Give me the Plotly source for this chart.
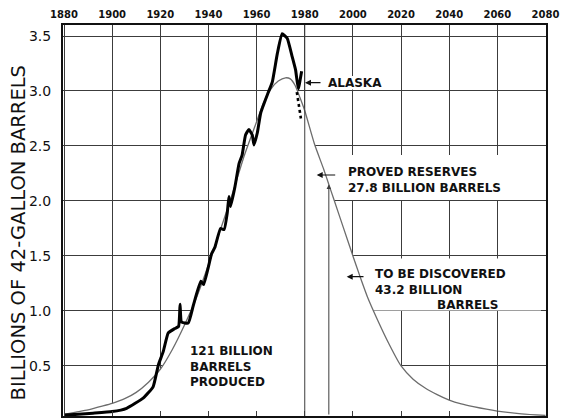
import numpy as np
import plotly.graph_objects as go

# ---------------- data ----------------
thin_years = [1880, 1885, 1890, 1895, 1900, 1905, 1910, 1915, 1920, 1925, 1930, 1935,
              1940, 1945, 1950, 1955, 1960, 1963, 1966, 1969, 1972, 1974, 1976, 1978,
              1980, 1984, 1988, 1990, 1992, 1996, 2000, 2003, 2006, 2010, 2015, 2020,
              2025, 2030, 2035, 2040, 2045, 2050, 2060, 2070, 2080]
thin_values = [0.06, 0.08, 0.10, 0.13, 0.16, 0.20, 0.26, 0.35, 0.47, 0.65, 0.87, 1.12,
               1.42, 1.74, 2.07, 2.42, 2.72, 2.90, 3.02, 3.09, 3.12, 3.11, 3.05, 2.94,
               2.82, 2.52, 2.28, 2.15, 2.02, 1.76, 1.50, 1.31, 1.13, 0.93, 0.70, 0.50,
               0.38, 0.30, 0.24, 0.19, 0.155, 0.13, 0.09, 0.065, 0.05]

prod_years = [1880, 1886, 1892, 1900, 1906, 1913, 1917, 1919.2, 1921.2, 1923.3,
              1926, 1927.6, 1928.2, 1928.8, 1931.6, 1933.7, 1936.8, 1938, 1941.3, 1942.7,
              1945, 1946.5, 1947.8, 1948.5, 1949.2, 1951, 1952.7, 1954, 1955.4, 1956.8,
              1958.2, 1958.9, 1960.3, 1961.7, 1964.9, 1966.5, 1968.6, 1970.6, 1972.7, 1974.8,
              1976.2, 1977.3, 1978.7]
prod_values = [0.055, 0.06, 0.07, 0.085, 0.115, 0.21, 0.31, 0.51, 0.63, 0.80,
               0.84, 0.86, 1.06, 0.90, 0.89, 1.05, 1.27, 1.24, 1.52, 1.58,
               1.75, 1.74, 1.89, 2.04, 1.95, 2.13, 2.34, 2.42, 2.60, 2.65,
               2.60, 2.51, 2.62, 2.80, 2.99, 3.08, 3.34, 3.52, 3.48, 3.31,
               3.19, 3.02, 3.18]

dash_years = [1976.7, 1978.4]
dash_values = [2.99, 2.75]

tick_years = list(range(1880, 2081, 20))
value_ticks = [0.5, 1.0, 1.5, 2.0, 2.5, 3.0, 3.5]
value_labels = ["0.5", "1.0", "1.5", "2.0", "2.5", "3.0", "3.5"]

produced_end = 1980
reserves_end = 1990

y_title = "BILLIONS OF 42-GALLON BARRELS"
label_alaska = "ALASKA"
label_reserves = ["PROVED RESERVES", "27.8 BILLION BARRELS"]
label_discover = ["TO BE DISCOVERED", "43.2 BILLION"]
label_discover_last = "BARRELS"
label_produced = ["121 BILLION", "BARRELS", "PRODUCED"]

# ---------------- layout helpers ----------------
X_RANGE = [1879.58, 2080.2]
Y_RANGE = [0.045, 3.6]
L, R, T, B = 63, 18, 25, 2
W, H = 564, 418
pw, ph = W - L - R, H - T - B


def yr(px):
    return X_RANGE[0] + (px - L) / pw * (X_RANGE[1] - X_RANGE[0])


def val(py):
    return Y_RANGE[1] - (py - T) / ph * (Y_RANGE[1] - Y_RANGE[0])


GRID = "#3c3c3c"
FONT = "DejaVu Sans"
LBL = dict(family=FONT, size=12, color="#111", weight="bold")

fig = go.Figure()

# smooth complete-cycle curve, area beneath it white (hides grid)
fig.add_trace(go.Scatter(x=thin_years, y=thin_values, mode="lines",
                         line=dict(color="#6c6c6c", width=1.3, shape="spline", smoothing=0.6),
                         fill="tozeroy", fillcolor="white", hoverinfo="skip"))

# boundary at 1980 (full height)
fig.add_trace(go.Scatter(x=[produced_end, produced_end], y=Y_RANGE, mode="lines",
                         line=dict(color=GRID, width=1), hoverinfo="skip"))

# actual production
fig.add_trace(go.Scatter(x=prod_years, y=prod_values, mode="lines",
                         line=dict(color="black", width=3, shape="spline", smoothing=0.4),
                         hoverinfo="skip"))
fig.add_trace(go.Scatter(x=dash_years, y=dash_values, mode="lines",
                         line=dict(color="black", width=2.6, dash="3px,3px"),
                         hoverinfo="skip"))

# white boxes behind the labels (cover grid lines, under traces)
boxes = [(322, 392, 76, 89.5), (340, 546, 155, 200), (352, 546, 258.5, 310.5)]
shapes = []
for x0, x1, y0, y1 in boxes:
    shapes.append(dict(type="rect", xref="x", yref="y", x0=yr(x0), x1=yr(x1),
                       y0=val(y1), y1=val(y0), fillcolor="white",
                       line=dict(width=0), layer="between"))

annotations = []
text_blocks = [
    (label_alaska, 327, 83),
    ("<br>".join(label_reserves), 347, 180),
    ("<br>".join(label_discover), 374, 281.5),
    (label_discover_last, 436, 304.5),
    ("<br>".join(label_produced), 189, 366.5),
]
for txt, px, py in text_blocks:
    annotations.append(dict(x=yr(px), y=val(py), xref="x", yref="y", text=txt,
                            showarrow=False, xanchor="left", yanchor="middle",
                            align="left", borderpad=0, font=LBL))

# left-pointing arrows
for hx, tx, py in [(305, 322, 82.7), (316.7, 336.7, 175), (346.7, 365, 276.7)]:
    annotations.append(dict(x=yr(hx), y=val(py), ax=yr(tx), ay=val(py), xref="x", yref="y",
                            axref="x", ayref="y", text="", showarrow=True,
                            arrowhead=2, arrowsize=1, arrowwidth=1.2, arrowcolor="#111"))

# vertical line at 1990 with arrow up to the curve
top_1990 = float(np.interp(reserves_end, thin_years, thin_values))
annotations.append(dict(x=reserves_end, y=top_1990, ax=reserves_end, ay=Y_RANGE[0],
                        xref="x", yref="y", axref="x", ayref="y", text="", showarrow=True,
                        arrowhead=2, arrowsize=0.9, arrowwidth=1, arrowcolor=GRID))

# y-axis title
annotations.append(dict(x=(17.5 - L) / pw, y=(H - B - 233) / ph, xref="paper", yref="paper",
                        text=y_title, textangle=-90, showarrow=False,
                        xanchor="center", yanchor="middle",
                        font=dict(family=FONT, size=19.5, color="#111")))

fig.update_layout(
    width=W, height=H, template="none",
    margin=dict(l=L, r=R, t=T, b=B, pad=0),
    paper_bgcolor="white", plot_bgcolor="white", showlegend=False,
    shapes=shapes, annotations=annotations,
    xaxis=dict(range=X_RANGE, side="top", tickvals=tick_years,
               ticktext=[str(v) for v in tick_years],
               tickfont=dict(family=FONT, size=10, color="#111", weight="bold"),
               ticks="inside", ticklen=5, tickwidth=1, tickcolor=GRID,
               showline=True, linewidth=2, linecolor="#111", mirror="ticks",
               showgrid=True, gridcolor=GRID, gridwidth=1, zeroline=False,
               automargin=False, ticklabelstandoff=1),
    yaxis=dict(range=Y_RANGE, tickvals=value_ticks, ticktext=value_labels,
               tickfont=dict(family=FONT, size=14, color="#111"),
               ticks="inside", ticklen=5, tickwidth=1, tickcolor=GRID,
               showline=True, linewidth=2, linecolor="#111", mirror="ticks",
               showgrid=True, gridcolor=GRID, gridwidth=1, zeroline=False,
               automargin=False, ticklabelstandoff=7),
)

fig.write_html("out.html")
